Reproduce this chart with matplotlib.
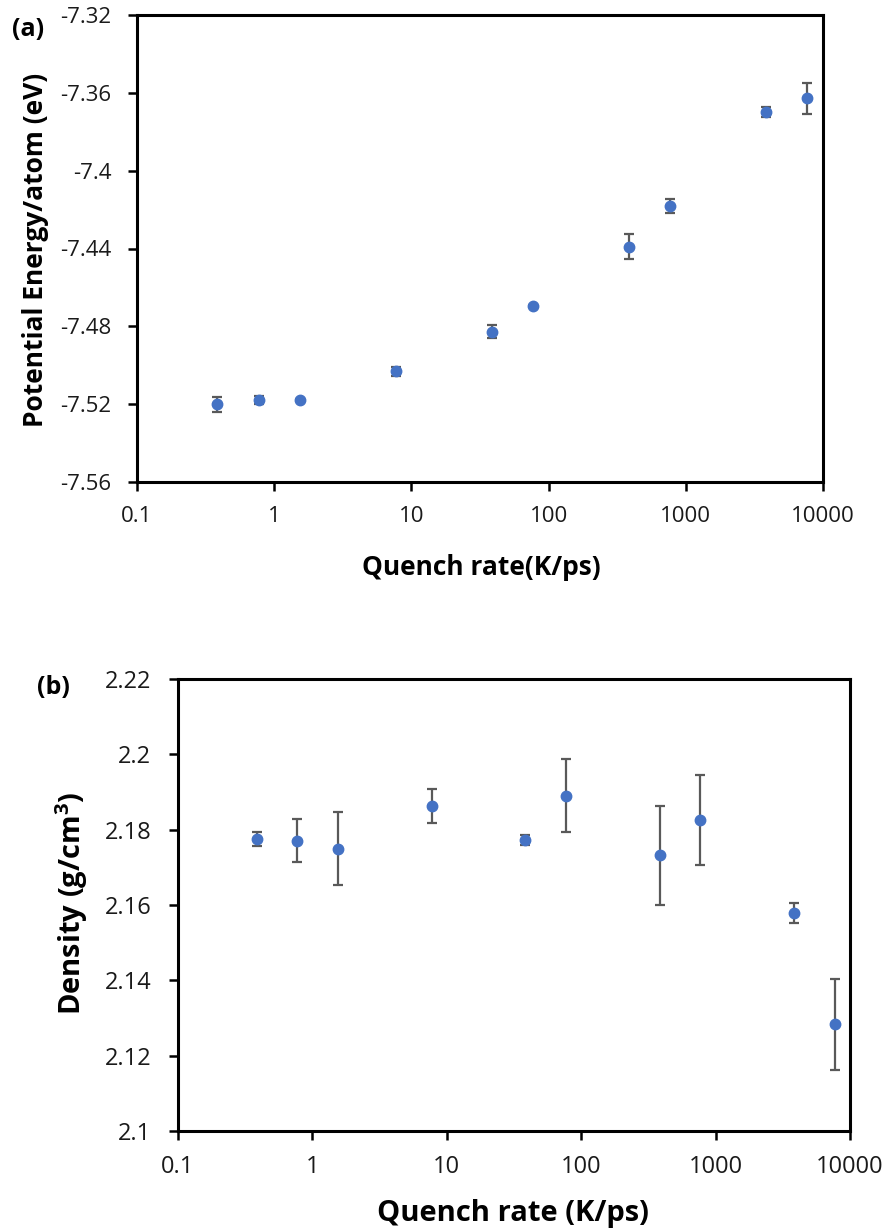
import matplotlib
matplotlib.use("Agg")
import matplotlib.pyplot as plt
from matplotlib.ticker import FixedLocator, NullLocator

plt.rcParams['font.family'] = ['Open Sans', 'DejaVu Sans']

# ---- data ----
quench_rate = [0.385, 0.77, 1.54, 7.7, 38.5, 77, 385, 770, 3850, 7700]

energy = [-7.520, -7.518, -7.518, -7.503, -7.4827, -7.4697, -7.4392, -7.4182, -7.370, -7.3628]
energy_err = [0.0039, 0.0020, 0.0005, 0.0023, 0.0035, 0.0005, 0.0064, 0.0036, 0.0026, 0.0079]

density = [2.1776, 2.1771, 2.1750, 2.1863, 2.1773, 2.1890, 2.1732, 2.1825, 2.1578, 2.1283]
density_err = [0.0019, 0.0056, 0.0097, 0.0046, 0.0014, 0.0097, 0.0131, 0.0119, 0.0026, 0.0120]

x_ticks = [0.1, 1, 10, 100, 1000, 10000]
x_ticklabels = ["0.1", "1", "10", "100", "1000", "10000"]
e_ticks = [-7.56, -7.52, -7.48, -7.44, -7.40, -7.36, -7.32]
e_ticklabels = ["-7.56", "-7.52", "-7.48", "-7.44", "-7.4", "-7.36", "-7.32"]
d_ticks = [2.10, 2.12, 2.14, 2.16, 2.18, 2.20, 2.22]
d_ticklabels = ["2.1", "2.12", "2.14", "2.16", "2.18", "2.2", "2.22"]

W, H = 893, 1232
fig = plt.figure(figsize=(W / 100, H / 100), dpi=100)

def make_ax(l, t, r, b):
    return fig.add_axes([l / W, 1 - b / H, (r - l) / W, (b - t) / H])

A1 = (137, 15, 823, 482)
A2 = (178, 679, 850, 1131)
ax1 = make_ax(*A1)
ax2 = make_ax(*A2)

marker_color = '#4472C4'
err_color = '#595959'

def style(ax, yticks, yticklabels, ylim, fs, ypad):
    ax.set_xscale('log')
    ax.set_xlim(0.1, 10000)
    ax.xaxis.set_major_locator(FixedLocator(x_ticks))
    ax.set_xticklabels(x_ticklabels)
    ax.xaxis.set_minor_locator(NullLocator())
    ax.set_ylim(*ylim)
    ax.set_yticks(yticks)
    ax.set_yticklabels(yticklabels)
    for s in ax.spines.values():
        s.set_linewidth(2.2)
        s.set_color('black')
    ax.tick_params(axis='both', which='major', direction='out', length=6.3,
                   width=1.8, labelsize=fs, colors='black')
    ax.tick_params(axis='y', pad=ypad)
    ax.tick_params(axis='x', pad=11)
    for lab in ax.get_xticklabels() + ax.get_yticklabels():
        lab.set_color('#1a1a1a')

def place_labels(ax, box, xl_center, yl_center):
    l, t, r, b = box
    w, h = r - l, b - t
    ax.xaxis.label.set_va('center')
    ax.yaxis.label.set_va('center')
    ax.xaxis.set_label_coords((xl_center[0] - l) / w, (b - xl_center[1]) / h)
    ax.yaxis.set_label_coords((yl_center[0] - l) / w, (b - yl_center[1]) / h)

# ---- panel (a) ----
ax1.errorbar(quench_rate, energy, yerr=energy_err, fmt='o', color=marker_color,
             markersize=7.5, ecolor=err_color, elinewidth=1.6, capsize=3.8,
             capthick=1.6, zorder=3)
style(ax1, e_ticks, e_ticklabels, (-7.56, -7.32), 16, 12)
ax1.set_xlabel('Quench rate(K/ps)', fontsize=19, fontweight='bold')
ax1.set_ylabel('Potential Energy/atom (eV)', fontsize=19, fontweight='bold')
place_labels(ax1, A1, (481, 568), (36, 250))
fig.text(28 / W, 1 - 29 / H, '(a)', fontsize=18, fontweight='bold', ha='center', va='center')

# ---- panel (b) ----
ax2.errorbar(quench_rate, density, yerr=density_err, fmt='o', color=marker_color,
             markersize=7.5, ecolor=err_color, elinewidth=1.6, capsize=3.8,
             capthick=1.6, zorder=3)
style(ax2, d_ticks, d_ticklabels, (2.10, 2.22), 17, 13)
ax2.set_xlabel('Quench rate (K/ps)', fontsize=21, fontweight='bold')
ax2.set_ylabel('Density (g/cm$^\\mathregular{3}$)', fontsize=21, fontweight='bold')
place_labels(ax2, A2, (513, 1214), (72, 903))
fig.text(53 / W, 1 - 688 / H, '(b)', fontsize=18, fontweight='bold', ha='center', va='center')

fig.savefig('out.png', dpi=100)
